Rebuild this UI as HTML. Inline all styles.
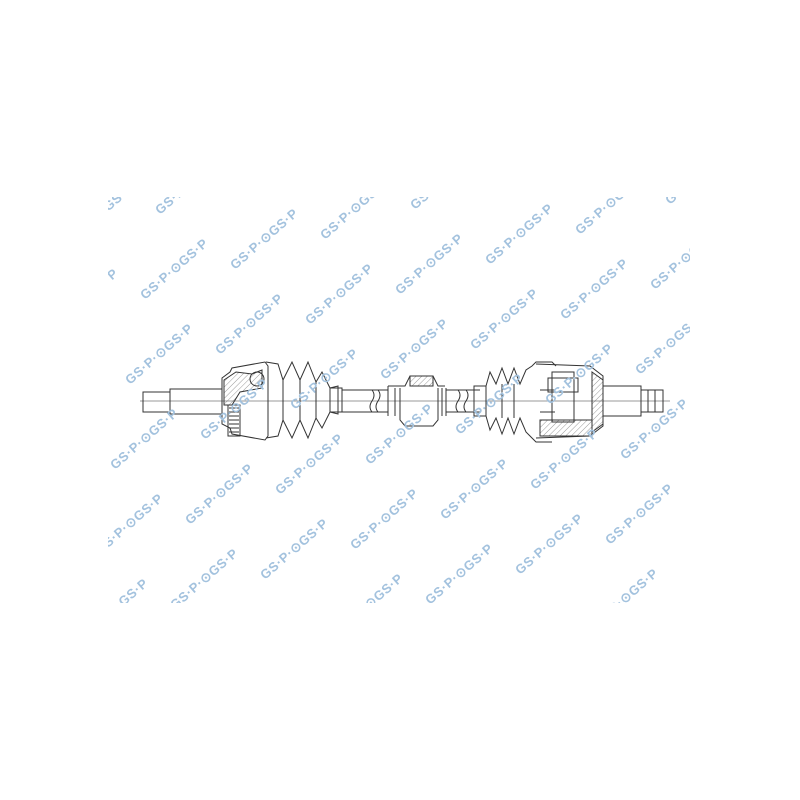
<!DOCTYPE html>
<html><head><meta charset="utf-8"><style>
html,body{margin:0;padding:0;background:#fff;}
svg{display:block}
.w{font-family:"Liberation Sans",sans-serif;font-weight:bold;font-size:13px;letter-spacing:0.6px;fill:#a3c2de;}
</style></head><body>
<svg width="800" height="800" viewBox="0 0 800 800" xmlns="http://www.w3.org/2000/svg">
<defs><clipPath id="c"><rect x="108" y="197" width="582" height="406"/></clipPath>
<pattern id="h" width="4" height="4" patternUnits="userSpaceOnUse" patternTransform="rotate(45)"><line x1="0" y1="0" x2="0" y2="4" stroke="#555" stroke-width="0.6"/></pattern></defs>
<rect width="800" height="800" fill="#fff"/>
<g fill="none" stroke="#333" stroke-width="1">
<rect x="143" y="392" width="27" height="20"/>
<rect x="170" y="389" width="52" height="25"/>
<line x1="140" y1="401" x2="670" y2="401" stroke-width="0.5"/>
<path d="M222 378 L230 372 L232 368 L265 362 L268 366 L268 436 L265 440 L232 434 L230 428 L222 424 Z"/>
<path d="M224 380 L236 372 L252 374 L262 370 L262 388 L240 392 L232 405 L224 405 Z" fill="url(#h)"/>
<circle cx="257" cy="379" r="7"/>
<path d="M228 405 L240 405 L240 436 L228 436 Z"/>
<path d="M229 408h10M229 412h10M229 416h10M229 420h10M229 424h10M229 428h10M229 432h10"/>
<path d="M266 362 L278 364 L283 380 L292 362 L300 380 L308 362 L316 382 L322 372 L330 388 L338 386 L338 414 L330 412 L322 428 L316 418 L308 438 L300 420 L292 438 L283 420 L278 436 L266 438"/>
<line x1="283" y1="380" x2="283" y2="420"/><line x1="300" y1="380" x2="300" y2="420"/><line x1="316" y1="382" x2="316" y2="418"/>
<rect x="330" y="388" width="12" height="24"/>
<line x1="342" y1="390" x2="388" y2="390"/><line x1="342" y1="412" x2="388" y2="412"/>
<path d="M372 390 q4 5 0 11 q-4 6 0 11 M378 390 q4 5 0 11 q-4 6 0 11"/>
<path d="M388 386 L405 386 L410 376 L433 376 L438 386 L445 386" />
<rect x="410" y="376" width="23" height="10" fill="url(#h)"/>
<path d="M388 386 L388 416 M395 388 L395 416 M400 388 L400 420 L405 426 L433 426 L438 420 L438 388 M442 388 L442 416 M446 388 L446 416"/>
<line x1="446" y1="390" x2="480" y2="390"/><line x1="446" y1="412" x2="480" y2="412"/>
<path d="M458 390 q4 5 0 11 q-4 6 0 11 M466 390 q4 5 0 11 q-4 6 0 11"/>
<rect x="474" y="386" width="12" height="30"/>
<path d="M486 386 L490 372 L496 384 L502 368 L508 384 L514 368 L520 384 L526 370 L532 366 L536 362 L552 362 L556 366 M486 416 L490 430 L496 418 L502 434 L508 418 L514 434 L520 418 L526 432 L532 438 L536 442 L552 442"/>
<line x1="502" y1="384" x2="502" y2="418"/><line x1="514" y1="384" x2="514" y2="418"/>
<path d="M536 364 L590 366 L603 376 L603 426 L590 436 L536 438"/>
<path d="M592 372 L603 380 L603 424 L592 432 Z" fill="url(#h)"/>
<path d="M540 420 L592 420 L592 436 L540 436 Z" fill="url(#h)"/>
<rect x="552" y="372" width="22" height="50"/>
<rect x="548" y="378" width="30" height="14"/>
<path d="M540 390 L555 390 M540 412 L555 412"/>
<rect x="603" y="386" width="38" height="30"/>
<rect x="641" y="390" width="22" height="22"/>
<path d="M648 390 v22 M655 390 v22"/>
</g>
<g class="w" clip-path="url(#c)">
<text transform="translate(205 440) rotate(-41)">GS·P·⊙GS·P</text>
<text transform="translate(175 610) rotate(-41)">GS·P·⊙GS·P</text>
<text transform="translate(190 525) rotate(-41)">GS·P·⊙GS·P</text>
<text transform="translate(220 355) rotate(-41)">GS·P·⊙GS·P</text>
<text transform="translate(235 270) rotate(-41)">GS·P·⊙GS·P</text>
<text transform="translate(250 185) rotate(-41)">GS·P·⊙GS·P</text>
<text transform="translate(280 495) rotate(-41)">GS·P·⊙GS·P</text>
<text transform="translate(265 580) rotate(-41)">GS·P·⊙GS·P</text>
<text transform="translate(295 410) rotate(-41)">GS·P·⊙GS·P</text>
<text transform="translate(310 325) rotate(-41)">GS·P·⊙GS·P</text>
<text transform="translate(325 240) rotate(-41)">GS·P·⊙GS·P</text>
<text transform="translate(355 550) rotate(-41)">GS·P·⊙GS·P</text>
<text transform="translate(340 635) rotate(-41)">GS·P·⊙GS·P</text>
<text transform="translate(370 465) rotate(-41)">GS·P·⊙GS·P</text>
<text transform="translate(385 380) rotate(-41)">GS·P·⊙GS·P</text>
<text transform="translate(400 295) rotate(-41)">GS·P·⊙GS·P</text>
<text transform="translate(415 210) rotate(-41)">GS·P·⊙GS·P</text>
<text transform="translate(430 605) rotate(-41)">GS·P·⊙GS·P</text>
<text transform="translate(445 520) rotate(-41)">GS·P·⊙GS·P</text>
<text transform="translate(460 435) rotate(-41)">GS·P·⊙GS·P</text>
<text transform="translate(475 350) rotate(-41)">GS·P·⊙GS·P</text>
<text transform="translate(490 265) rotate(-41)">GS·P·⊙GS·P</text>
<text transform="translate(505 180) rotate(-41)">GS·P·⊙GS·P</text>
<text transform="translate(520 575) rotate(-41)">GS·P·⊙GS·P</text>
<text transform="translate(535 490) rotate(-41)">GS·P·⊙GS·P</text>
<text transform="translate(550 405) rotate(-41)">GS·P·⊙GS·P</text>
<text transform="translate(565 320) rotate(-41)">GS·P·⊙GS·P</text>
<text transform="translate(580 235) rotate(-41)">GS·P·⊙GS·P</text>
<text transform="translate(595 630) rotate(-41)">GS·P·⊙GS·P</text>
<text transform="translate(610 545) rotate(-41)">GS·P·⊙GS·P</text>
<text transform="translate(625 460) rotate(-41)">GS·P·⊙GS·P</text>
<text transform="translate(640 375) rotate(-41)">GS·P·⊙GS·P</text>
<text transform="translate(655 290) rotate(-41)">GS·P·⊙GS·P</text>
<text transform="translate(670 205) rotate(-41)">GS·P·⊙GS·P</text>
<text transform="translate(130 385) rotate(-41)">GS·P·⊙GS·P</text>
<text transform="translate(115 470) rotate(-41)">GS·P·⊙GS·P</text>
<text transform="translate(100 555) rotate(-41)">GS·P·⊙GS·P</text>
<text transform="translate(85 640) rotate(-41)">GS·P·⊙GS·P</text>
<text transform="translate(145 300) rotate(-41)">GS·P·⊙GS·P</text>
<text transform="translate(160 215) rotate(-41)">GS·P·⊙GS·P</text>
<text transform="translate(55 330) rotate(-41)">GS·P·⊙GS·P</text>
<text transform="translate(40 415) rotate(-41)">GS·P·⊙GS·P</text>
<text transform="translate(25 500) rotate(-41)">GS·P·⊙GS·P</text>
<text transform="translate(10 585) rotate(-41)">GS·P·⊙GS·P</text>
<text transform="translate(70 245) rotate(-41)">GS·P·⊙GS·P</text>
</g>
</svg>
</body></html>
